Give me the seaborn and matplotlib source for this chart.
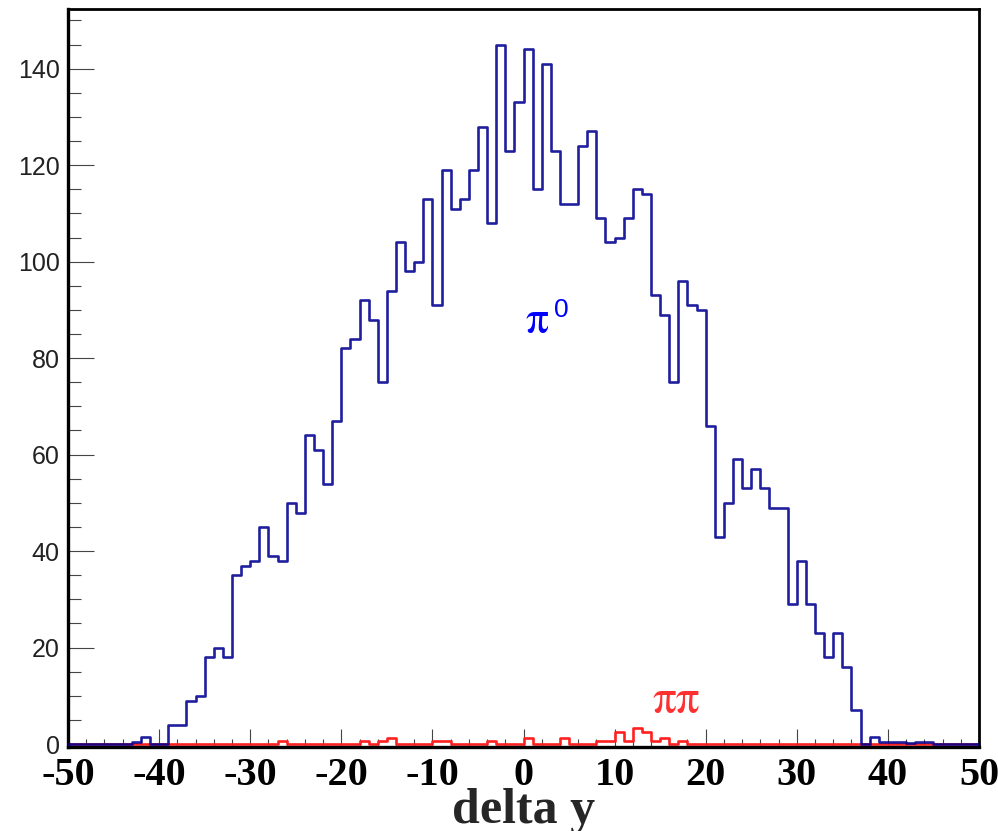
import numpy as np
import pandas as pd
import matplotlib
matplotlib.use("Agg")
import matplotlib.pyplot as plt
import seaborn as sns
from matplotlib.ticker import MultipleLocator

# ---------------- data ----------------
bin_edges = list(range(-50, 51))           # 100 bins of width 1

pi0_counts = [
    0, 0, 0, 0, 0, 0, 0,                   # -50 .. -44
    0.5, 1.5, 0, 0,                        # -43 .. -40
    4, 4, 9, 10, 18, 20, 18,               # -39 .. -33
    35, 37, 38, 45, 39, 38, 50, 48,        # -32 .. -25
    64, 61, 54, 67, 82, 84, 92, 88,        # -24 .. -17
    75, 94, 104, 98, 100, 113, 91, 119,    # -16 .. -9
    111, 113, 119, 128, 108, 145, 123, 133,  # -8 .. -1
    144, 115, 141, 123, 112, 112, 124, 127,  # 0 .. 7
    109, 104, 105, 109, 115, 114, 93, 89,    # 8 .. 15
    75, 96, 91, 90, 66, 43, 50, 59,          # 16 .. 23
    53, 57, 53, 49, 49, 29, 38, 29,          # 24 .. 31
    23, 18, 23, 16, 7, 0, 1.5, 0.5,          # 32 .. 39
    0.5, 0.5, 0.3, 0.5, 0.5,                 # 40 .. 44
    0, 0, 0, 0, 0,                           # 45 .. 49
]

pipi_bins = [-27, -18, -16, -15, -10, -9, -4, 0, 4, 8, 9, 10, 11, 12, 13, 14, 15, 17]
pipi_vals = [0.6, 0.6, 0.6, 1.3, 0.6, 0.6, 0.6, 1.3, 1.3, 0.6, 0.6, 2.5, 0.6, 3.4, 2.5, 0.6, 1.3, 0.6]

x_ticks = [-50, -40, -30, -20, -10, 0, 10, 20, 30, 40, 50]
y_ticks = [0, 20, 40, 60, 80, 100, 120, 140]

x_label = "delta y"
label_pi = "π"
label_sup = "0"
label_pipi = "ππ"

# ---------------- build tables ----------------
centers = np.asarray(bin_edges[:-1], float) + 0.5
pipi_counts = np.zeros(len(centers))
for b, v in zip(pipi_bins, pipi_vals):
    pipi_counts[b + 50] = v

df_pi0 = pd.DataFrame({"delta_y": centers, "counts": np.asarray(pi0_counts, float)})
df_pipi = pd.DataFrame({"delta_y": centers, "counts": pipi_counts})

# ---------------- style ----------------
sns.set_theme(style="white")
plt.rcParams["font.family"] = ["Liberation Sans", "DejaVu Sans"]
plt.rcParams["axes.unicode_minus"] = False

W, H = 998, 831
fig = plt.figure(figsize=(W / 100, H / 100), dpi=100)
ax = fig.add_axes([68 / W, 1 - 747 / H, (979 - 68) / W, (747 - 9.3) / H])

blue = "#000090"
red = "#ff2020"

sns.histplot(data=df_pipi, x="delta_y", weights="counts",
             bins=bin_edges, element="step", fill=False, color=red,
             linewidth=1.9, ax=ax, zorder=2)
sns.histplot(data=df_pi0, x="delta_y", weights="counts",
             bins=bin_edges, element="step", fill=False, color=blue,
             linewidth=1.9, alpha=0.88, ax=ax, zorder=3)

ax.set_xlim(-50, 50)
ax.set_ylim(-0.6, 152.3)

ax.xaxis.set_major_locator(MultipleLocator(10))
ax.xaxis.set_minor_locator(MultipleLocator(2))
ax.yaxis.set_major_locator(MultipleLocator(20))
ax.yaxis.set_minor_locator(MultipleLocator(5))
ax.set_xticks(x_ticks)
ax.set_yticks(y_ticks)

ax.tick_params(axis="x", which="major", direction="in", length=13, width=0.8,
               color="#444444", bottom=True, top=False, pad=7,
               labelsize=29, labelcolor="black")
ax.tick_params(axis="x", which="minor", direction="in", length=6, width=0.8,
               color="#444444", bottom=True, top=False)
ax.tick_params(axis="y", which="major", direction="in", length=19, width=0.8,
               color="#444444", left=True, right=False, pad=6,
               labelsize=18, labelcolor="#222222")
ax.tick_params(axis="y", which="minor", direction="in", length=9, width=0.8,
               color="#444444", left=True, right=False)

for lab in ax.get_xticklabels():
    lab.set_fontfamily("Liberation Serif")
    lab.set_fontweight("bold")

for side in ["left", "bottom"]:
    ax.spines[side].set_linewidth(2.4)
    ax.spines[side].set_color("black")
for side in ["top", "right"]:
    ax.spines[side].set_linewidth(2.0)
    ax.spines[side].set_color("black")
    ax.spines[side].set_visible(True)

ax.set_ylabel("")
ax.set_xlabel(x_label, fontsize=36, fontweight="bold", family="Liberation Serif",
              labelpad=-4)

ax.text(0.2, 85.3, label_pi, color="#0000ff", fontsize=33,
        family=["STIXGeneral", "DejaVu Serif"])
ax.text(3.3, 88.6, label_sup, color="#0000ff", fontsize=19,
        family=["Liberation Sans", "DejaVu Sans"])
ax.text(14.2, 6.4, label_pipi, color="#ff3030", fontsize=34,
        family=["STIXGeneral", "DejaVu Serif"])

fig.savefig("out.png", dpi=100)
